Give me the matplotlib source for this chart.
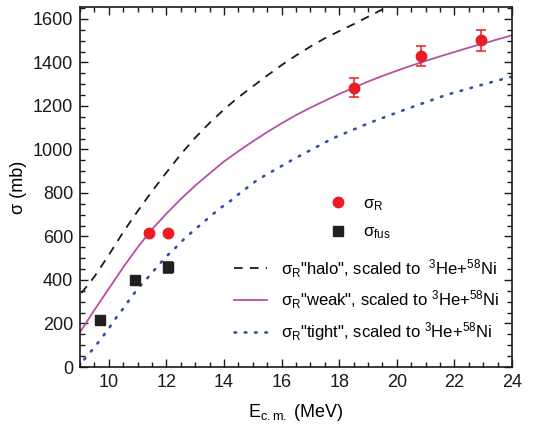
import numpy as np
import matplotlib
matplotlib.use("Agg")
import matplotlib.pyplot as plt
from matplotlib.ticker import MultipleLocator

plt.rcParams['font.family'] = ['Liberation Sans', 'DejaVu Sans']
plt.rcParams['mathtext.fontset'] = 'custom'
plt.rcParams['mathtext.rm'] = 'Liberation Sans'
plt.rcParams['mathtext.it'] = 'Liberation Sans:italic'
plt.rcParams['mathtext.bf'] = 'Liberation Sans:bold'

# measured cross sections
e_r = [11.4, 12.07, 18.5, 20.83, 22.92]
sig_r = [615, 617, 1284, 1430, 1502]
sig_r_err = [10, 10, 44, 45, 47]

e_fus = [9.68, 10.9, 12.06]
sig_fus = [216, 401, 458]
sig_fus_err = [6, 8, 27]

# scaled curves
e_halo = [9.05, 9.5, 10.0, 10.5, 11.0, 11.5, 12.0, 12.5, 13.0, 13.5, 14.0,
          14.5, 15.0, 15.5, 16.0, 16.5, 17.0, 17.5, 18.0, 18.5, 19.0, 19.5, 19.8]
sig_halo = [340, 415, 515, 620, 716, 808, 894, 978, 1054, 1122, 1184,
            1240, 1290, 1340, 1388, 1432, 1473, 1511, 1544, 1576, 1610, 1644, 1665]

e_weak = [9.0, 9.5, 10.0, 10.5, 11.0, 11.5, 12.0, 12.5, 13.0, 13.5, 14.0, 14.5,
          15.0, 15.5, 16.0, 16.5, 17.0, 17.5, 18.0, 18.5, 19.0, 19.5, 20.0,
          20.5, 21.0, 21.5, 22.0, 22.5, 23.0, 23.5, 24.0]
sig_weak = [160, 262, 360, 458, 550, 633, 705, 772, 834, 890, 945, 992,
            1037, 1080, 1120, 1158, 1192, 1224, 1255, 1284, 1312, 1338, 1362,
            1385, 1407, 1428, 1448, 1468, 1487, 1506, 1525]

e_tight = [9.15, 9.51, 9.78, 10.03, 10.27, 10.52, 10.78, 11.05, 11.35, 11.65,
           11.97, 12.3, 12.62, 12.94, 13.26, 13.59, 13.91, 14.24, 14.54, 15.18,
           16.49, 17.79, 19.1, 20.4, 21.7, 23.0, 24.0]
sig_tight = [35, 92, 138, 183, 229, 272, 321, 367, 410, 456,
             505, 546, 589, 627, 662, 700, 734, 765, 798, 862,
             961, 1052, 1125, 1189, 1250, 1299, 1335]

fig = plt.figure(figsize=(5.54, 4.30), dpi=100)
ax = fig.add_axes([80 / 554, 1 - 367 / 430, 432 / 554, 360 / 430])

l_halo, = ax.plot(e_halo, sig_halo, color='#1a1a1a', lw=1.3, dashes=(4.8, 4.0),
                  label='σ$_{\\mathrm{R}}$"halo", scaled to  $^{3}$He+$^{58}$Ni')
l_weak, = ax.plot(e_weak, sig_weak, color='#b64fa6', lw=1.3,
                  label='σ$_{\\mathrm{R}}$"weak", scaled to $^{3}$He+$^{58}$Ni')
l_tight, = ax.plot(e_tight, sig_tight, color='#3050a8', lw=1.9, dashes=(0.6, 3.3),
                   dash_capstyle='round',
                   label='σ$_{\\mathrm{R}}$"tight", scaled to $^{3}$He+$^{58}$Ni')

ax.errorbar(e_r, sig_r, yerr=sig_r_err, fmt='none', ecolor='#ec1c24',
            elinewidth=1.1, capsize=3.5, capthick=1.1, zorder=4)
p_r, = ax.plot(e_r, sig_r, 'o', color='#ec1c24', ms=7.5, zorder=5,
               label='σ$_{\\mathrm{R}}$')
ax.errorbar(e_fus, sig_fus, yerr=sig_fus_err, fmt='none', ecolor='#231f20',
            elinewidth=1.1, capsize=3.5, capthick=1.1, zorder=4)
p_fus, = ax.plot(e_fus, sig_fus, 's', color='#231f20', ms=7, zorder=5,
                 label='σ$_{\\mathrm{fus}}$')

ax.set_xlim(9, 24)
ax.set_ylim(0, 1655)
ax.xaxis.set_major_locator(MultipleLocator(2))
ax.xaxis.set_minor_locator(MultipleLocator(0.5))
ax.yaxis.set_major_locator(MultipleLocator(200))
ax.yaxis.set_minor_locator(MultipleLocator(50))
ax.tick_params(which='both', direction='in', top=True, right=True,
               labelsize=13, width=1.0, colors='#1a1a1a')
ax.tick_params(which='major', length=6, pad=5)
ax.tick_params(which='minor', length=3.5)
for s in ax.spines.values():
    s.set_linewidth(1.2)
    s.set_color('#1a1a1a')

ax.set_xlabel('E$_{\\mathrm{c.m.}}$ (MeV)', fontsize=13, labelpad=8)
ax.set_ylabel('σ (mb)', fontsize=13, labelpad=4)

leg1 = ax.legend(handles=[p_r, p_fus], loc='upper left', frameon=False,
                 bbox_to_anchor=(330 / 554, 1 - 196 / 430),
                 bbox_transform=fig.transFigure, fontsize=12, numpoints=1,
                 handlelength=1.0, handletextpad=1.0, labelspacing=0.7,
                 borderpad=0, borderaxespad=0)
ax.add_artist(leg1)
ax.legend(handles=[l_halo, l_weak, l_tight], loc='upper left', frameon=False,
          bbox_to_anchor=(234 / 554, 1 - 257 / 430),
          bbox_transform=fig.transFigure, fontsize=12,
          handlelength=2.0, handletextpad=0.8, labelspacing=0.55,
          borderpad=0, borderaxespad=0)

fig.savefig('out.png', dpi=100)
